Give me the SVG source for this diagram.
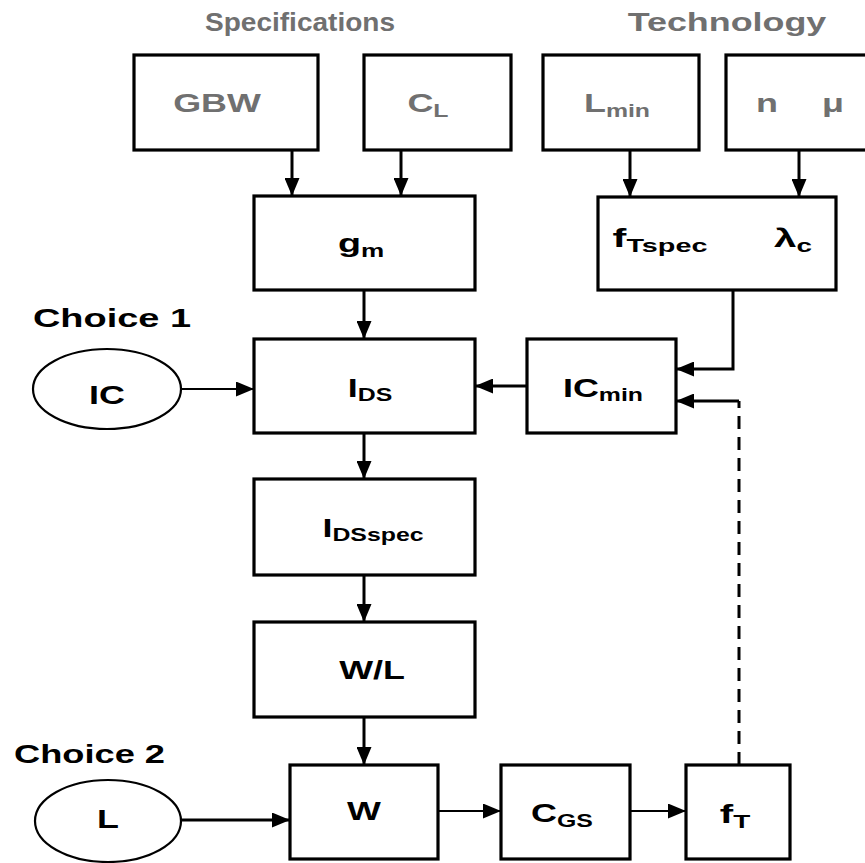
<svg xmlns="http://www.w3.org/2000/svg" width="865" height="863" viewBox="0 0 865 863">
<style>
  .box { fill: #ffffff; stroke: #000000; stroke-width: 3.2; }
  .ell { fill: #ffffff; stroke: #000000; stroke-width: 2.2; }
  .t { font-family: "Liberation Sans", Arial, sans-serif; font-weight: bold; font-size: 26px; fill: #000000; }
  .g { fill: #707070; }
  .sub { font-size: 18px; }
  .c { fill: none; stroke: #000000; stroke-width: 3; }
  .thin { stroke-width: 2.2; }
  .dash { stroke-dasharray: 13 8; }
</style>
<defs>
  <marker id="ah" markerUnits="userSpaceOnUse" markerWidth="18" markerHeight="15" refX="18" refY="7.5" orient="auto">
    <path d="M0,0 L18,7.5 L0,15 z" fill="#000000"/>
  </marker>
</defs>
<rect width="865" height="863" fill="#ffffff"/>

<g id="headers">
  <text class="t g" x="300" y="31" text-anchor="middle" textLength="190" lengthAdjust="spacingAndGlyphs">Specifications</text>
  <text class="t g" text-anchor="middle" transform="translate(727,31) scale(1.38,1)">Technology</text>
</g>

<g id="connectors">
  <line class="c" x1="292" y1="150" x2="292" y2="196" marker-end="url(#ah)"/>
  <line class="c" x1="401" y1="150" x2="401" y2="196" marker-end="url(#ah)"/>
  <line class="c" x1="630" y1="150" x2="630" y2="197" marker-end="url(#ah)"/>
  <line class="c" x1="799" y1="150" x2="799" y2="197" marker-end="url(#ah)"/>
  <line class="c" x1="364" y1="290" x2="364" y2="339" marker-end="url(#ah)"/>
  <line class="c thin" x1="181" y1="389" x2="254" y2="389" marker-end="url(#ah)"/>
  <line class="c" x1="527" y1="386" x2="475" y2="386" marker-end="url(#ah)"/>
  <path class="c" d="M733,290 V369 H676" marker-end="url(#ah)"/>
  <path class="c dash" d="M739,765 V401"/>
  <path class="c" d="M739,401 H676" marker-end="url(#ah)"/>
  <line class="c" x1="364" y1="433" x2="364" y2="479" marker-end="url(#ah)"/>
  <line class="c" x1="364" y1="575" x2="364" y2="622" marker-end="url(#ah)"/>
  <line class="c" x1="364" y1="717" x2="364" y2="765" marker-end="url(#ah)"/>
  <line class="c" x1="181" y1="820" x2="290" y2="820" marker-end="url(#ah)"/>
  <line class="c thin" x1="438" y1="811" x2="501" y2="811" marker-end="url(#ah)"/>
  <line class="c thin" x1="630" y1="811" x2="686" y2="811" marker-end="url(#ah)"/>
</g>

<g id="GBW">
  <rect class="box" x="134" y="55" width="184" height="95"/>
  <text class="t g" font-size="25" text-anchor="middle" transform="translate(217,112) scale(1.38,1)">GBW</text>
</g>
<g id="CL">
  <rect class="box" x="364" y="55" width="147" height="95"/>
  <text class="t g" font-size="25" text-anchor="middle" transform="translate(428,112) scale(1.38,1)">C<tspan class="sub" dy="5">L</tspan></text>
</g>
<g id="Lmin">
  <rect class="box" x="543" y="55" width="156" height="95"/>
  <text class="t g" font-size="25" text-anchor="middle" transform="translate(617,112) scale(1.38,1)">L<tspan class="sub" dy="5">min</tspan></text>
</g>
<g id="nmu">
  <rect class="box" x="726" y="55" width="150" height="95"/>
  <text class="t g" font-size="25" text-anchor="middle" transform="translate(800,112) scale(1.38,1)">n<tspan dx="32">μ</tspan></text>
</g>
<g id="gm">
  <rect class="box" x="254" y="196" width="221" height="94"/>
  <text class="t" text-anchor="middle" transform="translate(361,252) scale(1.45,1)">g<tspan class="sub" dy="5">m</tspan></text>
</g>
<g id="fTspec">
  <rect class="box" x="598" y="197" width="238" height="93"/>
  <text class="t" text-anchor="middle" transform="translate(660,247) scale(1.6,1)">f<tspan class="sub" dy="5">Tspec</tspan></text>
  <text class="t" text-anchor="middle" transform="translate(793,247) scale(1.55,1)">λ<tspan class="sub" dy="5">c</tspan></text>
</g>
<g id="IC">
  <ellipse class="ell" cx="107" cy="389" rx="74" ry="40"/>
  <text class="t" font-size="27" text-anchor="middle" transform="translate(107,404) scale(1.38,1)">IC</text>
</g>
<g id="choice1">
  <text class="t" x="33" y="327" textLength="158" lengthAdjust="spacingAndGlyphs">Choice 1</text>
</g>
<g id="IDS">
  <rect class="box" x="254" y="339" width="221" height="94"/>
  <text class="t" font-size="27" text-anchor="middle" transform="translate(370,397) scale(1.38,1)">I<tspan class="sub" dy="4">DS</tspan></text>
</g>
<g id="ICmin">
  <rect class="box" x="527" y="339" width="149" height="94"/>
  <text class="t" font-size="27" text-anchor="middle" transform="translate(603,397) scale(1.38,1)">IC<tspan class="sub" dy="4">min</tspan></text>
</g>
<g id="IDSspec">
  <rect class="box" x="254" y="479" width="221" height="96"/>
  <text class="t" font-size="27" text-anchor="middle" transform="translate(373,537) scale(1.38,1)">I<tspan class="sub" dy="4">DSspec</tspan></text>
</g>
<g id="WL">
  <rect class="box" x="254" y="622" width="221" height="95"/>
  <text class="t" font-size="27" text-anchor="middle" transform="translate(372,679) scale(1.38,1)">W/L</text>
</g>
<g id="choice2">
  <text class="t" x="14" y="763" textLength="151" lengthAdjust="spacingAndGlyphs">Choice 2</text>
</g>
<g id="L">
  <ellipse class="ell" cx="108" cy="821" rx="73" ry="41"/>
  <text class="t" font-size="27" text-anchor="middle" transform="translate(108,828) scale(1.38,1)">L</text>
</g>
<g id="W">
  <rect class="box" x="290" y="765" width="148" height="94"/>
  <text class="t" font-size="27" text-anchor="middle" transform="translate(364,820) scale(1.38,1)">W</text>
</g>
<g id="CGS">
  <rect class="box" x="501" y="765" width="129" height="94"/>
  <text class="t" font-size="27" text-anchor="middle" transform="translate(562,822) scale(1.38,1)">C<tspan class="sub" dy="5">GS</tspan></text>
</g>
<g id="fT">
  <rect class="box" x="686" y="765" width="104" height="94"/>
  <text class="t" font-size="28" text-anchor="middle" transform="translate(735,823) scale(1.55,1)">f<tspan class="sub" font-size="19" dy="5">T</tspan></text>
</g>
</svg>
